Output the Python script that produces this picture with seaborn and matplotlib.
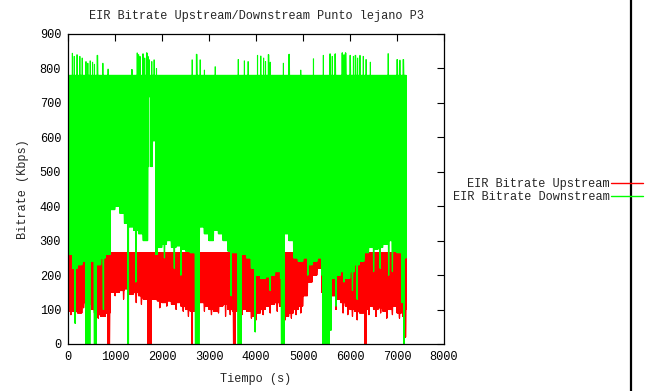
import numpy as np
import pandas as pd
import matplotlib
matplotlib.use("Agg")
import matplotlib.pyplot as plt
import seaborn as sns
from matplotlib.lines import Line2D

# ---------------- data ----------------
title = "EIR Bitrate Upstream/Downstream Punto lejano P3"
xlabel = "Tiempo (s)"
ylabel = "Bitrate (Kbps)"
series_names = ["EIR Bitrate Upstream", "EIR Bitrate Downstream"]
x_ticks = [0, 1000, 2000, 3000, 4000, 5000, 6000, 7000, 8000]
y_ticks = [0, 100, 200, 300, 400, 500, 600, 700, 800, 900]

# 100-second bins starting at 0 s
bin_start = list(range(0, 7200, 100))

# Downstream (green) band: lower / upper envelope per bin (Kbps)
down_lo = [260, 220, 230, 240, 255, 240, 230, 250, 260, 390,
           400, 380, 350, 340, 330, 320, 300, 515, 590, 280,
           290, 300, 280, 285, 275, 270, 265, 265, 340, 320,
           300, 330, 320, 300, 270, 265, 265, 260, 250, 220,
           200, 190, 195, 200, 210, 230, 320, 300, 250, 240,
           250, 230, 240, 250, 200, 200, 190, 200, 210, 190,
           210, 230, 240, 265, 280, 275, 280, 290, 300, 270,
           265, 250]
down_hi = [780] * 72

# Upstream (red) band: lower / upper envelope per bin (Kbps)
up_lo = [95, 95, 90, 120, 115, 100, 85, 80, 90, 150,
         150, 155, 160, 145, 150, 140, 130, 135, 130, 125,
         120, 125, 115, 120, 110, 100, 95, 110, 120, 110,
         100, 95, 110, 115, 100, 95, 100, 100, 95, 80,
         90, 100, 110, 115, 120, 110, 80, 90, 100, 110,
         140, 180, 200, 220, 150, 150, 140, 130, 120, 110,
         100, 95, 90, 100, 110, 100, 105, 95, 100, 110,
         90, 100]
up_hi = [265] * 72

# Downstream excursions beyond the band: start (s), value (Kbps), duration (s)
down_spike_t = [90, 130, 190, 250, 300, 380, 420, 470, 520, 560, 620, 740, 850,
                1355, 1470, 1500, 1530, 1590, 1630, 1670, 1700, 1730, 1780, 1830, 1880,
                2640, 2730, 2810, 2900, 3130, 3620, 3750, 3830,
                4030, 4100, 4160, 4200, 4260, 4300, 4580, 4700, 4950,
                5220, 5430, 5570, 5620, 5680, 5830, 5870, 5900,
                6000, 6070, 6110, 6160, 6210, 6280, 6340, 6430, 6810,
                7000, 7060, 7130,
                150, 380, 560, 750, 1270, 1440, 1870, 2050, 2260, 2400, 2710, 3470,
                3620, 3980, 4300, 4520, 4540, 5100, 5420, 5590, 5700, 5870, 6050,
                6150, 6500, 6640, 6820, 6900, 7100, 7150]
down_spike_v = [844, 835, 840, 835, 830, 820, 815, 822, 818, 812, 838, 815, 798,
                797, 845, 840, 835, 842, 830, 845, 835, 825, 820, 825, 800,
                825, 841, 825, 795, 805, 826, 822, 820,
                838, 836, 830, 820, 840, 818, 815, 841, 795,
                828, 838, 842, 835, 842, 845, 840, 845,
                838, 835, 838, 830, 838, 835, 826, 818, 843,
                826, 824, 826,
                60, 0, 0, 100, 0, 180, 260, 250, 220, 200, 0, 140,
                0, 35, 155, 190, 0, 200, 0, 40, 110, 180, 155,
                130, 210, 220, 200, 210, 120, 0]
down_spike_w = [10, 10, 10, 10, 10, 10, 10, 10, 10, 10, 15, 10, 10,
                10, 10, 10, 10, 15, 10, 15, 10, 10, 10, 10, 10,
                10, 15, 10, 10, 10, 10, 10, 10,
                10, 10, 10, 10, 15, 10, 10, 15, 10,
                10, 10, 15, 10, 15, 15, 10, 15,
                15, 10, 15, 10, 10, 10, 10, 10, 10,
                15, 10, 15,
                15, 90, 40, 15, 25, 10, 30, 10, 10, 10, 80, 10,
                70, 10, 10, 10, 60, 10, 140, 15, 10, 10, 10,
                10, 10, 10, 10, 10, 10, 15]

# Downstream openings (band floor lifted): start (s), floor (Kbps), duration (s)
down_gap_t = [1725]
down_gap_v = [718]
down_gap_w = [35]

# Upstream excursions: start (s), value (Kbps), duration (s)
up_spike_t = [60, 150, 230, 330, 560, 640, 700, 760, 850, 1000, 1180, 1450, 1560,
              1700, 1950, 2100, 2300, 2450, 2560, 2640, 2700, 2900, 3050, 3200,
              3350, 3450, 3520, 3700, 3900, 4000, 4150, 4300, 4450, 4620, 4750,
              4850, 4950, 5550, 5700, 5850, 5950, 6050, 6150, 6320, 6400, 6550,
              6650, 6780, 6900, 7050, 7120, 7170]
up_spike_v = [85, 80, 100, 105, 90, 75, 80, 85, 0, 140, 130, 120, 115,
              0, 105, 110, 100, 95, 80, 0, 95, 95, 85, 90,
              80, 85, 0, 85, 75, 70, 85, 90, 95, 70, 75,
              85, 90, 120, 100, 90, 85, 80, 70, 0, 85, 80,
              90, 75, 85, 75, 80, 20]
up_spike_w = [10, 10, 10, 10, 10, 10, 10, 10, 40, 10, 10, 10, 10,
              70, 10, 10, 10, 10, 10, 15, 10, 10, 10, 10,
              10, 10, 40, 10, 10, 10, 10, 10, 10, 10, 10,
              10, 10, 10, 10, 10, 10, 10, 10, 30, 10, 10,
              10, 10, 10, 10, 10, 20]


def band_trace(lo_bins, hi_bins, sp_t, sp_v, sp_w, gap=((), (), ()), step=5.0):
    """Expand per-bin min/max values into a dense up/down trace."""
    t = np.arange(bin_start[0], bin_start[-1] + 100, step)
    idx = ((t - bin_start[0]) // 100).astype(int)
    lo = np.asarray(lo_bins, float)[idx]
    hi = np.asarray(hi_bins, float)[idx]
    for ts, v, w in zip(sp_t, sp_v, sp_w):
        m = (t >= ts) & (t < ts + w)
        up = v > (lo[m] + hi[m]) / 2
        hi[m] = np.where(up, np.maximum(hi[m], v), hi[m])
        lo[m] = np.where(~up, np.minimum(lo[m], v), lo[m])
    for ts, v, w in zip(*gap):
        m = (t >= ts) & (t < ts + w)
        lo[m] = v
    k = np.arange(len(t))
    y = np.empty(2 * len(t))
    y[0::2] = np.where(k % 2 == 0, lo, hi)
    y[1::2] = np.where(k % 2 == 0, hi, lo)
    return np.repeat(t, 2), y


xu, yu = band_trace(up_lo, up_hi, up_spike_t, up_spike_v, up_spike_w)
xd, yd = band_trace(down_lo, down_hi, down_spike_t, down_spike_v, down_spike_w,
                    gap=(down_gap_t, down_gap_v, down_gap_w))
df = pd.concat([
    pd.DataFrame({"t": xu, "v": yu, "serie": series_names[0]}),
    pd.DataFrame({"t": xd, "v": yd, "serie": series_names[1]}),
], ignore_index=True)

# ---------------- drawing ----------------
sns.set_theme(style="white")
plt.rcParams["font.family"] = ["Liberation Mono", "DejaVu Sans Mono"]
plt.rcParams["font.size"] = 8.4

W, H = 657, 391
fig = plt.figure(figsize=(W / 100, H / 100), dpi=100)
ax = fig.add_axes([68 / W, 1 - 344 / H, (444 - 68) / W, (344 - 34) / H])

sns.lineplot(data=df, x="t", y="v", hue="serie", hue_order=series_names,
             palette=["#ff0000", "#00ff00"], estimator=None, sort=False,
             linewidth=0.7, ax=ax, legend=False)

ax.set_xlim(0, 8000)
ax.set_ylim(0, 900)
ax.set_xticks(x_ticks)
ax.set_yticks(y_ticks)
ax.tick_params(direction="in", top=True, right=True, length=5, width=0.8,
               colors="black", labelsize=8.6, pad=5)
for s in ax.spines.values():
    s.set_color("black")
    s.set_linewidth(0.9)

ax.set_xlabel(xlabel, fontsize=8.6, labelpad=7)
ax.set_ylabel(ylabel, fontsize=8.6, labelpad=8)
ax.set_title(title, fontsize=8.6, pad=11)

handles = [Line2D([], [], color="#ff0000", lw=1),
           Line2D([], [], color="#00ff00", lw=1)]
fig.legend(handles, series_names, loc="upper right",
           bbox_to_anchor=(643 / W, 1 - 178 / H), frameon=False,
           markerfirst=False, handlelength=2.7, handletextpad=0.1,
           borderpad=0, borderaxespad=0, labelspacing=0.1, fontsize=8.6)

fig.add_artist(Line2D([631 / W, 631 / W], [0, 1], color="black", lw=1.6,
                      transform=fig.transFigure))

fig.savefig("out.png", dpi=100)
